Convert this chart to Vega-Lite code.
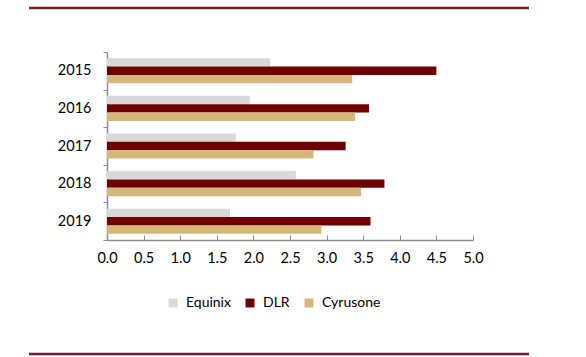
{
  "$schema": "https://vega.github.io/schema/vega-lite/v6.json",
  "width": 366,
  "height": 188,
  "autosize": "none",
  "padding": {"left": 107, "top": 52, "right": 113, "bottom": 117},
  "background": "white",
  "config": {
    "view": {"stroke": null},
    "font": "Lato",
    "axis": {"labelFont": "Lato", "labelFontSize": 14.5, "labelColor": "#000000", "domainColor": "#8c8c8c", "tickColor": "#8c8c8c", "grid": false, "title": null},
    "legend": {"labelFont": "Lato", "labelFontSize": 14, "labelColor": "#000000"}
  },
  "layer": [
    {
      "data": {
        "values": [
          {"year": "2015", "company": "Equinix", "value": 2.23},
          {"year": "2015", "company": "DLR", "value": 4.5},
          {"year": "2015", "company": "Cyrusone", "value": 3.35},
          {"year": "2016", "company": "Equinix", "value": 1.95},
          {"year": "2016", "company": "DLR", "value": 3.58},
          {"year": "2016", "company": "Cyrusone", "value": 3.39},
          {"year": "2017", "company": "Equinix", "value": 1.76},
          {"year": "2017", "company": "DLR", "value": 3.26},
          {"year": "2017", "company": "Cyrusone", "value": 2.82},
          {"year": "2018", "company": "Equinix", "value": 2.58},
          {"year": "2018", "company": "DLR", "value": 3.79},
          {"year": "2018", "company": "Cyrusone", "value": 3.47},
          {"year": "2019", "company": "Equinix", "value": 1.68},
          {"year": "2019", "company": "DLR", "value": 3.6},
          {"year": "2019", "company": "Cyrusone", "value": 2.93}
        ]
      },
      "mark": {"type": "bar"},
      "encoding": {
        "y": {
          "field": "year", "type": "nominal",
          "scale": {"paddingInner": 0, "paddingOuter": 0},
          "axis": {"tickBand": "extent", "tickSize": 4, "labelPadding": 12, "domainWidth": 1.5, "labelAlign": "right"}
        },
        "yOffset": {
          "field": "company", "type": "nominal",
          "sort": ["Equinix", "DLR", "Cyrusone"],
          "scale": {"paddingInner": 0, "paddingOuter": 0.75}
        },
        "x": {
          "field": "value", "type": "quantitative",
          "scale": {"domain": [0, 5], "nice": false},
          "axis": {"values": [0, 0.5, 1, 1.5, 2, 2.5, 3, 3.5, 4, 4.5, 5], "format": ".1f", "tickSize": -5, "labelPadding": 16, "domainWidth": 1.5, "labelFlush": false}
        },
        "color": {
          "field": "company", "type": "nominal",
          "sort": ["Equinix", "DLR", "Cyrusone"],
          "scale": {"domain": ["Equinix", "DLR", "Cyrusone"], "range": ["#d9d9d9", "#6e0000", "#d5b77c"]},
          "legend": {"title": null, "orient": "none", "legendX": 59, "legendY": 244, "direction": "horizontal", "symbolType": "square", "symbolSize": 80, "symbolStrokeWidth": 0, "columnPadding": 12, "labelOffset": 6}
        }
      }
    },
    {
      "data": {"values": [{"line": "top"}]},
      "mark": {"type": "rule", "color": "#7a1e2b", "strokeWidth": 2.5},
      "encoding": {"x": {"value": -78}, "x2": {"value": 422}, "y": {"value": -44}}
    },
    {
      "data": {"values": [{"line": "bottom"}]},
      "mark": {"type": "rule", "color": "#7a1e2b", "strokeWidth": 2.5},
      "encoding": {"x": {"value": -78}, "x2": {"value": 422}, "y": {"value": 302}}
    }
  ]
}
